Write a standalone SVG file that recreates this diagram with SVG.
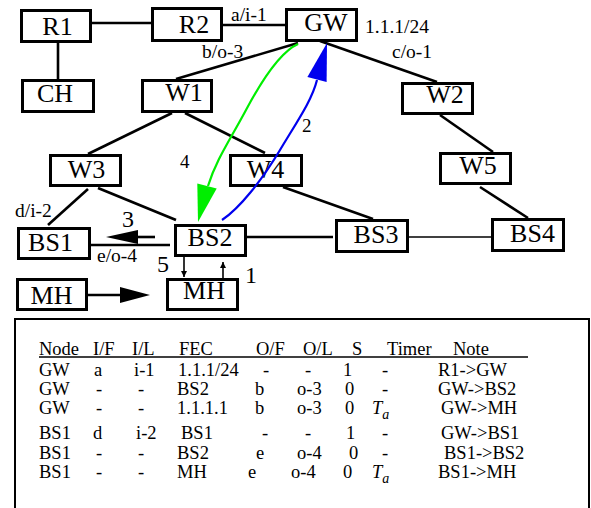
<svg xmlns="http://www.w3.org/2000/svg" width="591" height="508" viewBox="0 0 591 508" font-family="'Liberation Serif', 'DejaVu Serif', serif">
  <style>
    text { font-family: 'Liberation Serif', 'DejaVu Serif', serif; fill: #000; }
    .box { fill: #fff; stroke: #000; stroke-width: 3; }
    .name { font-size: 26px; text-anchor: middle; }
    .link { stroke: #000; stroke-width: 2.6; fill: none; }
    .thin { stroke: #000; stroke-width: 1.6; fill: none; }
    .port { font-size: 19.5px; }
    .step { font-size: 24px; }
    .stepS { font-size: 19px; }
    .tab { font-size: 18.5px; }
    .it { font-style: italic; }
  </style>
  <defs>
    <marker id="tip" viewBox="0 0 10 10" refX="10" refY="5" markerWidth="6" markerHeight="9" markerUnits="userSpaceOnUse" orient="auto">
      <path d="M0,0 L10,5 L0,10 Z" fill="#000"/>
    </marker>
  </defs>

  <!-- links between nodes -->
  <g id="connectors">
    <line class="link" x1="92" y1="23" x2="151" y2="23"/>
    <line class="link" x1="223" y1="25" x2="285" y2="25"/>
    <line class="link" x1="58" y1="43" x2="58" y2="79"/>
    <line class="link" x1="298" y1="43" x2="176" y2="79"/>
    <line class="link" x1="320" y1="41" x2="437" y2="82"/>
    <line class="link" x1="172" y1="113" x2="88" y2="154"/>
    <line class="link" x1="185" y1="113" x2="265" y2="153"/>
    <line class="link" x1="440" y1="115" x2="493" y2="152"/>
    <line class="link" x1="88" y1="189" x2="48" y2="225"/>
    <line class="link" x1="98" y1="188" x2="176" y2="220"/>
    <line class="link" x1="283" y1="187" x2="373" y2="219"/>
    <line class="link" x1="480" y1="187" x2="528" y2="218"/>
    <line class="link" x1="247" y1="237" x2="333" y2="237"/>
    <line class="thin" x1="405" y1="237" x2="491" y2="237"/>
    <line class="link" x1="91" y1="245" x2="170" y2="245"/>
    <!-- step 3: BS2 towards BS1 -->
    <line class="link" x1="155" y1="237" x2="135" y2="237"/>
    <polygon points="106,237 138,230 138,244" fill="#000"/>
    <!-- MH moves in -->
    <line class="link" x1="88" y1="295" x2="122" y2="295"/>
    <polygon points="150,295 120,287 120,303" fill="#000"/>
    <!-- steps 5 and 1 between BS2 and MH -->
    <line class="thin" x1="184" y1="257" x2="184" y2="277" marker-end="url(#tip)"/>
    <line class="thin" x1="223" y1="279" x2="223" y2="262" marker-end="url(#tip)"/>
  </g>

  <g id="R1"><rect class="box" x="21.5" y="10.5" width="69" height="31"/><text class="name" x="57.5" y="35">R1</text></g>
  <g id="R2"><rect class="box" x="152.5" y="8.5" width="69" height="32"/><text class="name" x="194" y="33">R2</text></g>
  <g id="GW"><rect class="box" x="286.5" y="9.5" width="70" height="31"/><text class="name" x="326" y="31">GW</text></g>
  <g id="CH"><rect class="box" x="22.5" y="80.5" width="71" height="31"/><text class="name" x="55" y="102">CH</text></g>
  <g id="W1"><rect class="box" x="142.5" y="80.5" width="69" height="31"/><text class="name" x="184" y="101">W1</text></g>
  <g id="W2"><rect class="box" x="402.5" y="83.5" width="70" height="30"/><text class="name" x="445" y="103">W2</text></g>
  <g id="W3"><rect class="box" x="50.5" y="155.5" width="70" height="30"/><text class="name" x="86.5" y="178">W3</text></g>
  <g id="W4"><rect class="box" x="230.5" y="155.5" width="71" height="30"/><text class="name" x="265.5" y="178">W4</text></g>
  <g id="W5"><rect class="box" x="440.5" y="153.5" width="70" height="30"/><text class="name" x="478" y="174">W5</text></g>
  <g id="BS1"><rect class="box" x="18.5" y="228.5" width="71" height="30"/><text class="name" x="50.5" y="251">BS1</text></g>
  <g id="BS2"><rect class="box" x="175.5" y="225.5" width="70" height="30"/><text class="name" x="210" y="246">BS2</text></g>
  <g id="BS3"><rect class="box" x="336.5" y="220.5" width="71" height="31"/><text class="name" x="376" y="243">BS3</text></g>
  <g id="BS4"><rect class="box" x="492.5" y="219.5" width="71" height="31"/><text class="name" x="532.5" y="242">BS4</text></g>
  <g id="MH-out"><rect class="box" x="17.5" y="279.5" width="69" height="30"/><text class="name" x="51.5" y="304">MH</text></g>
  <g id="MH-in"><rect class="box" x="167.5" y="279.5" width="70" height="30"/><text class="name" x="204" y="299">MH</text></g>

  <!-- signalling paths -->
  <g id="paths">
    <path d="M298,44 C280,52 262,80 246,110 S216,160 208,186" fill="none" stroke="#00ee00" stroke-width="2.2"/>
    <polygon points="198,222 197.3,183.6 216.7,188.4" fill="#00ee00"/>
    <path d="M222,220 C240,208 262,180 280,150 S312,100 317,80" fill="none" stroke="#0000ee" stroke-width="2.2"/>
    <polygon points="327,43 307.4,76.9 326.6,82.1" fill="#0000ee"/>
  </g>

  <!-- interface / label annotations -->
  <g id="labels">
    <text class="port" x="231" y="21">a/i-1</text>
    <text class="port" x="202" y="58">b/o-3</text>
    <text class="port" x="365" y="33">1.1.1/24</text>
    <text class="port" x="392" y="58">c/o-1</text>
    <text class="port" x="15" y="217">d/i-2</text>
    <text class="port" x="97" y="262">e/o-4</text>
    <text class="stepS" x="180" y="168">4</text>
    <text class="stepS" x="302" y="132">2</text>
    <text class="step" x="122" y="227">3</text>
    <text class="step" x="157" y="272">5</text>
    <text class="step" x="245" y="283">1</text>
  </g>

  <!-- forwarding table -->
  <g id="table">
    <path d="M15,510 V319 H589 V510" fill="none" stroke="#000" stroke-width="2"/>
    <line x1="39" y1="357" x2="528" y2="357" stroke="#000" stroke-width="1.5"/>
    <g class="tab">
      <text x="39" y="355">Node</text><text x="93" y="355">I/F</text><text x="132" y="355">I/L</text><text x="179" y="355">FEC</text><text x="256" y="355">O/F</text><text x="303" y="355">O/L</text><text x="352" y="355">S</text><text x="387" y="355">Timer</text><text x="453" y="355">Note</text>

      <text x="39" y="376">GW</text><text x="94" y="376">a</text><text x="134" y="376">i-1</text><text x="178" y="376">1.1.1/24</text><text x="263" y="376">-</text><text x="305" y="376">-</text><text x="343" y="376">1</text><text x="382" y="376">-</text><text x="438" y="376">R1-&gt;GW</text>

      <text x="39" y="395">GW</text><text x="96" y="395">-</text><text x="138" y="395">-</text><text x="177" y="395">BS2</text><text x="255" y="395">b</text><text x="297" y="395">o-3</text><text x="345" y="395">0</text><text x="382" y="395">-</text><text x="438" y="395">GW-&gt;BS2</text>

      <text x="39" y="414">GW</text><text x="96" y="414">-</text><text x="138" y="414">-</text><text x="177" y="414">1.1.1.1</text><text x="255" y="414">b</text><text x="297" y="414">o-3</text><text x="345" y="414">0</text><text class="it" x="372" y="414">T<tspan font-size="14" dy="5">a</tspan></text><text x="441" y="414">GW-&gt;MH</text>

      <text x="39" y="439">BS1</text><text x="93" y="439">d</text><text x="136" y="439">i-2</text><text x="181" y="439">BS1</text><text x="262" y="439">-</text><text x="305" y="439">-</text><text x="346" y="439">1</text><text x="382" y="439">-</text><text x="441" y="439">GW-&gt;BS1</text>

      <text x="39" y="459">BS1</text><text x="96" y="459">-</text><text x="138" y="459">-</text><text x="177" y="459">BS2</text><text x="256" y="459">e</text><text x="297" y="459">o-4</text><text x="349" y="459">0</text><text x="382" y="459">-</text><text x="444" y="459">BS1-&gt;BS2</text>

      <text x="39" y="478">BS1</text><text x="96" y="478">-</text><text x="138" y="478">-</text><text x="177" y="478">MH</text><text x="248" y="478">e</text><text x="291" y="478">o-4</text><text x="343" y="478">0</text><text class="it" x="372" y="478">T<tspan font-size="14" dy="5">a</tspan></text><text x="438" y="478">BS1-&gt;MH</text>
    </g>
  </g>
</svg>
